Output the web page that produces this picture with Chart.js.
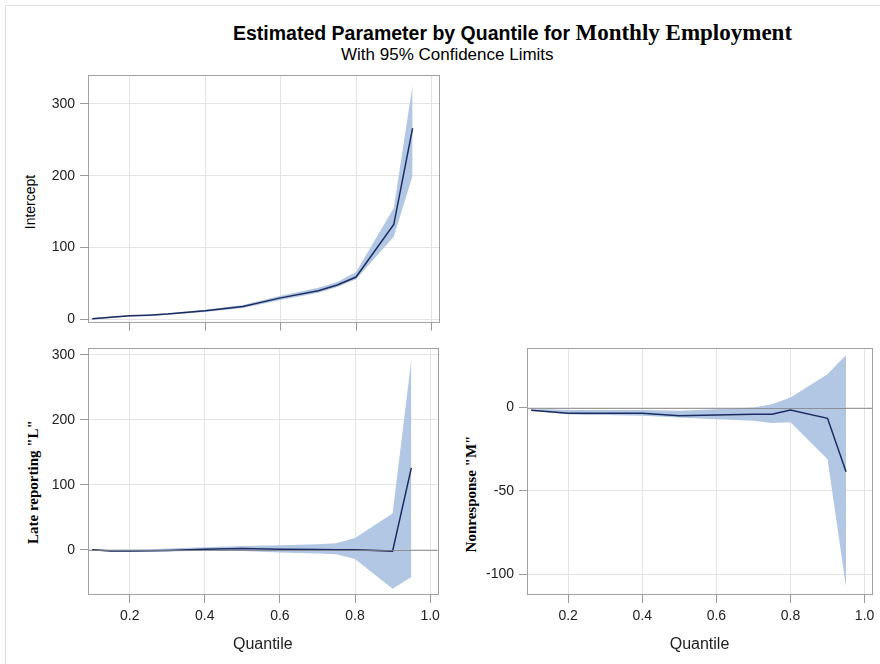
<!DOCTYPE html>
<html>
<head>
<meta charset="utf-8">
<script src="https://cdn.jsdelivr.net/npm/chart.js@4/dist/chart.umd.min.js"></script>
<style>
body { margin: 0; background: #fff; width: 880px; height: 664px; position: relative; overflow: hidden; font-family: "Liberation Sans", Arial, sans-serif; }
canvas { position: absolute; }
#outer { position: absolute; left: 5px; top: 5px; width: 880px; height: 664px; border-left: 1px solid #ddd; border-top: 1px solid #ddd; }
.txt { position: absolute; white-space: nowrap; color: #000; line-height: 1; }
.ytitle { position: absolute; white-space: nowrap; color: #000; transform: translate(-50%, -50%) rotate(-90deg); }
.serif { font-family: "Liberation Serif", "Times New Roman", serif; font-weight: bold; }
</style>
</head>
<body>
<div id="outer"></div>
<div class="txt" style="left:233px; top:21px; font-size:19.5px; font-weight:bold;">Estimated Parameter by Quantile for <span class="serif" style="font-size:23px;">Monthly Employment</span></div>
<div class="txt" style="left:341px; top:46px; font-size:17px;">With 95% Confidence Limits</div>

<div class="ytitle" style="left:30px; top:202px; font-size:14px;">Intercept</div>
<div class="ytitle serif" style="left:33px; top:482px; font-size:15px;">Late reporting "L"</div>
<div class="ytitle serif" style="left:471px; top:494px; font-size:15px;">Nonresponse "M"</div>

<canvas id="c1" width="445" height="275" style="left:0; top:60px;"></canvas>
<canvas id="c2" width="445" height="329" style="left:0; top:335px;"></canvas>
<canvas id="c3" width="435" height="329" style="left:445px; top:335px;"></canvas>

<script>
// quantiles used in the fits
var quantiles = [0.1, 0.15, 0.2, 0.25, 0.3, 0.4, 0.5, 0.6, 0.7, 0.75, 0.8, 0.9, 0.95];

// Intercept
var interceptEst   = [1, 3, 5, 6, 7.5, 12, 18, 30, 40, 48, 59, 132, 266];
var interceptLower = [0, 2, 4, 5, 6.5, 10.5, 16, 27, 37, 45, 56, 115, 200];
var interceptUpper = [2, 4, 6, 7, 8.5, 13.5, 20, 33, 44, 52, 66, 155, 326];

// Late reporting "L"
var lateEst   = [0, -2, -2, -1.5, -1, 1, 2, 1, 0.5, 0, 0, -2, 126];
var lateLower = [-1, -3, -3.5, -3, -2.5, -1.5, -2, -4, -5.5, -7, -14, -60, -42];
var lateUpper = [1, 0, 0.5, 1, 2, 4, 6, 7, 8.5, 10, 18, 56, 293];

// Nonresponse "M"
var nonEst   = [-1.6, -2.5, -3.5, -3.5, -3.5, -3.5, -5, -4.5, -4, -4, -1.5, -6.5, -38.6];
var nonLower = [-2, -3, -4, -4.5, -4.5, -5, -6, -7, -8, -9.3, -8.8, -31, -108];
var nonUpper = [-1, -1, -1.5, -1.5, -1.5, -1.5, -2, -1, 0, 2, 6, 20, 31.6];

var xTicks = [0.2, 0.4, 0.6, 0.8, 1.0];
var interceptTicks = [0, 100, 200, 300];
var lateTicks = [0, 100, 200, 300];
var nonTicks = [-100, -50, 0];

var bandColor = "rgb(178,199,228)";
var lineColor = "rgb(28,44,96)";
var fontFamily = "'Liberation Sans', Arial, sans-serif";

function pts(ys) {
    return quantiles.map(function (q, i) { return { x: q, y: ys[i] }; });
}

// frame round the plot area and the reference line at zero
var framePlugin = {
    id: "frame",
    afterDatasetsDraw: function (chart, args, opts) {
        var a = chart.chartArea, ctx = chart.ctx;
        ctx.save();
        if (opts.refLine) {
            var y0 = Math.round(chart.scales.y.getPixelForValue(0)) + 0.5;
            ctx.strokeStyle = "rgba(130,130,130,0.8)";
            ctx.lineWidth = 1;
            ctx.beginPath();
            ctx.moveTo(a.left, y0);
            ctx.lineTo(a.right, y0);
            ctx.stroke();
        }
        ctx.strokeStyle = "#a0a0a0";
        ctx.lineWidth = 1;
        ctx.strokeRect(Math.round(a.left) + 0.5, Math.round(a.top) + 0.5,
            Math.round(a.right - a.left), Math.round(a.bottom - a.top));
        ctx.restore();
    }
};

function makePanel(id, lower, upper, est, yMin, yMax, yTicks, p) {
    return new Chart(id, {
        type: "line",
        data: {
            datasets: [{
                data: pts(est),
                borderColor: lineColor,
                borderWidth: 1.5,
                pointRadius: 0,
                fill: false
            },
            {
                data: pts(lower),
                borderWidth: 0,
                pointRadius: 0,
                fill: false
            },
            {
                data: pts(upper),
                borderWidth: 0,
                pointRadius: 0,
                backgroundColor: bandColor,
                fill: "-1"
            }]
        },
        options: {
            responsive: false,
            animation: false,
            layout: { padding: { left: 0, top: p.top, right: p.right, bottom: 0 } },
            plugins: {
                legend: { display: false },
                tooltip: { enabled: false },
                frame: { refLine: p.refLine }
            },
            scales: {
                x: {
                    type: "linear",
                    min: 0.089,
                    max: 1.02,
                    afterBuildTicks: function (s) { s.ticks = xTicks.map(function (v) { return { value: v }; }); },
                    afterFit: function (s) { s.height = p.xHeight; },
                    border: { display: false },
                    grid: { color: "#e3e3e3", tickColor: "#999", tickLength: 9 },
                    ticks: {
                        display: p.showX,
                        color: "#222",
                        padding: 5,
                        maxRotation: 0,
                        font: { family: fontFamily, size: 14 },
                        callback: function (v) { return v.toFixed(1); }
                    },
                    title: {
                        display: p.showX,
                        text: "Quantile",
                        color: "#222",
                        font: { family: fontFamily, size: 16 },
                        padding: { top: 0, bottom: 10 }
                    }
                },
                y: {
                    min: yMin,
                    max: yMax,
                    afterBuildTicks: function (s) { s.ticks = yTicks.map(function (v) { return { value: v }; }); },
                    afterFit: function (s) { s.width = p.yWidth; },
                    border: { display: false },
                    grid: { color: "#e3e3e3", tickColor: "#999", tickLength: 8 },
                    ticks: {
                        color: "#222",
                        padding: 5,
                        font: { family: fontFamily, size: 14 }
                    }
                }
            }
        },
        plugins: [framePlugin]
    });
}

makePanel("c1", interceptLower, interceptUpper, interceptEst, -3, 340, interceptTicks,
    { top: 15, right: 6, xHeight: 12, yWidth: 88, showX: false, refLine: false });
makePanel("c2", lateLower, lateUpper, lateEst, -68, 310, lateTicks,
    { top: 8, right: 7, xHeight: 70, yWidth: 88, showX: true, refLine: true });
makePanel("c3", nonLower, nonUpper, nonEst, -112, 35.5, nonTicks,
    { top: 7, right: 8, xHeight: 70, yWidth: 82, showX: true, refLine: true });
</script>
</body>
</html>
